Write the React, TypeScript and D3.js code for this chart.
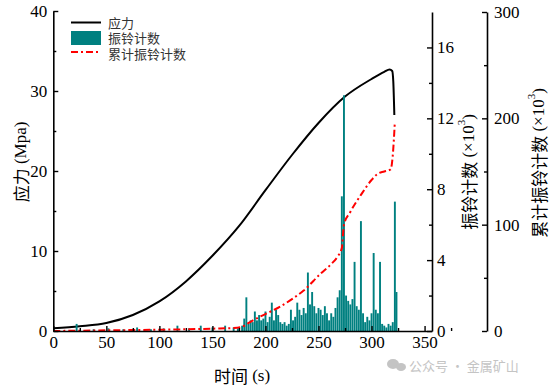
import React, { useEffect, useRef } from 'react';
import * as d3 from 'd3';

// 应力 (MPa) vs time (s)
const stressTime = [0, 25, 50, 75, 100, 125, 150, 175, 200, 225, 250, 275, 300, 312, 317, 319.5, 320.5, 321.5];
const stressVal = [0.35, 0.6, 1.0, 2.0, 3.7, 6.2, 9.4, 13.1, 17.6, 22.0, 26.0, 29.3, 31.5, 32.4, 32.7, 32.5, 31.2, 27.0];

// 振铃计数 (x10^3)
const ringTime = [22, 38, 52, 66, 79, 92, 104, 117, 128, 139, 150, 162, 170, 174,
  178, 180, 182, 184, 186, 188, 190, 192, 194, 196, 198, 200, 202, 204, 206, 208,
  210, 212, 214, 216, 218, 220, 222, 224, 226, 228, 230, 232, 234, 236, 238, 240,
  242, 244, 246, 248, 250, 252, 254, 256, 258, 260, 262, 264, 266, 268, 270, 272,
  274, 276, 278, 280, 282, 284, 286, 288, 290, 292, 294, 296, 298, 300, 302, 304,
  306, 308, 310, 312, 314, 316, 318, 320, 322, 323.5];
const ringVal = [0.4, 0.1, 0.15, 0.1, 0.2, 0.1, 0.15, 0.3, 0.15, 0.3, 0.2, 0.3, 0.2, 0.15,
  0.3, 0.7, 1.9, 0.4, 0.6, 0.5, 1.1, 0.6, 0.9, 0.6, 0.7, 1.1, 0.5, 0.8, 1.6, 0.6,
  1.2, 0.9, 0.5, 0.4, 0.5, 0.3, 0.4, 1.2, 0.6, 0.8, 1.6, 1.2, 0.9, 1.3, 1.0, 3.3,
  1.5, 2.2, 1.4, 1.0, 1.3, 1.2, 0.9, 1.4, 1.0, 0.6, 1.0, 0.8, 1.3, 1.9, 2.3, 7.6,
  13.3, 2.0, 1.7, 1.5, 1.8, 3.9, 1.4, 1.2, 6.2, 1.0, 0.5, 0.8, 0.6, 1.0, 4.4, 1.2,
  1.0, 3.9, 0.4, 0.3, 0.2, 0.4, 0.3, 0.5, 7.3, 2.2];

// 累计振铃计数 (x10^3)
const cumTime = [0, 25, 50, 75, 100, 125, 150, 170, 178, 183, 190, 198, 214, 225, 236, 252, 262, 268, 272, 274, 280, 290, 300, 306, 312, 318, 320, 322];
const cumVal = [0, 0.3, 0.6, 0.9, 1.2, 1.6, 2.2, 2.8, 4, 7, 11, 15, 23, 30, 38, 54, 63, 70, 78, 100, 112, 128, 142, 148, 150, 152, 165, 197];

const xTicks = [0, 50, 100, 150, 200, 250, 300, 350];
const stressTicks = [0, 10, 20, 30, 40];
const ringTicks = [0, 4, 8, 12, 16];
const cumTicks = [0, 100, 200, 300];

const legendLabels = ['应力', '振铃计数', '累计振铃计数'];

const W = 550;
const H = 387;
const NUM_FONT = '"Liberation Serif", "DejaVu Serif", serif';
const CJK_FONT = '"Noto Sans CJK SC", "Liberation Serif", serif';
const TEAL = '#008080';

const App = () => {
  const svgRef = useRef<SVGSVGElement>(null);

  useEffect(() => {
    const svg = d3.select(svgRef.current);
    svg.selectAll('*').remove();

    const left = 53.3, right = 432, top = 11, bottom = 331;
    const right2 = 487;

    const x = d3.scaleLinear().domain([0, 357]).range([left, right]);
    const yS = d3.scaleLinear().domain([0, 40]).range([bottom, top]);
    const yR = d3.scaleLinear().domain([0, 18]).range([bottom, top + 1]);
    const yC = d3.scaleLinear().domain([0, 300]).range([bottom, top + 1]);

    const styleAxis = (g, anchor) => {
      g.selectAll('path.domain').attr('stroke', '#000').attr('stroke-width', 1.6);
      g.selectAll('.tick line').attr('stroke', '#000').attr('stroke-width', 1.4);
      g.selectAll('.tick text')
        .attr('font-family', NUM_FONT)
        .attr('font-size', 17)
        .attr('fill', '#000');
      if (anchor) g.selectAll('.tick text').attr('text-anchor', anchor);
    };

    // stress line (drawn first, bars overlay it)
    const stress = stressTime.map((t, i) => [t, stressVal[i]]);
    svg.append('path')
      .datum(stress)
      .attr('fill', 'none')
      .attr('stroke', '#000')
      .attr('stroke-width', 2)
      .attr('d', d3.line().x(d => x(d[0])).y(d => yS(d[1])).curve(d3.curveMonotoneX));

    // ring count bars
    const bw = x(1.8) - x(0);
    svg.append('g')
      .selectAll('rect')
      .data(ringTime.map((t, i) => ({ t, v: ringVal[i] })))
      .enter()
      .append('rect')
      .attr('x', d => x(d.t) - bw / 2)
      .attr('y', d => yR(d.v))
      .attr('width', bw)
      .attr('height', d => bottom - yR(d.v))
      .attr('fill', TEAL);

    // cumulative ring count
    const cum = cumTime.map((t, i) => [t, cumVal[i]]);
    svg.append('path')
      .datum(cum)
      .attr('fill', 'none')
      .attr('stroke', '#ff0000')
      .attr('stroke-width', 2)
      .attr('stroke-dasharray', '7,3,2,3')
      .attr('d', d3.line().x(d => x(d[0])).y(d => yC(d[1])).curve(d3.curveMonotoneX));

    // x axis
    const gx = svg.append('g').attr('transform', `translate(0,${bottom})`);
    gx.call(d3.axisBottom(x).tickValues(xTicks).tickSize(-5).tickSizeOuter(0).tickPadding(5).tickFormat(d3.format('d')));
    gx.append('g').call(d3.axisBottom(x).tickValues(xTicks.map(t => t + 25)).tickSize(-3).tickFormat(() => ''))
      .call(g => g.select('.domain').remove());
    styleAxis(gx, null);

    // left axis
    const gl = svg.append('g').attr('transform', `translate(${left},0)`);
    gl.call(d3.axisLeft(yS).tickValues(stressTicks).tickSize(-5).tickSizeOuter(0).tickPadding(6));
    gl.append('g').call(d3.axisLeft(yS).tickValues([5, 15, 25, 35]).tickSize(-3).tickFormat(() => ''))
      .call(g => g.select('.domain').remove());
    styleAxis(gl, 'end');

    // right axis 1 (振铃计数)
    const gr = svg.append('g').attr('transform', `translate(${right},0)`);
    gr.call(d3.axisRight(yR).tickValues(ringTicks).tickSize(-5).tickSizeOuter(0).tickPadding(5));
    gr.append('g').call(d3.axisRight(yR).tickValues([2, 6, 10, 14]).tickSize(-3).tickFormat(() => ''))
      .call(g => g.select('.domain').remove());
    styleAxis(gr, 'start');

    // right axis 2 (累计振铃计数)
    const gr2 = svg.append('g').attr('transform', `translate(${right2},0)`);
    gr2.call(d3.axisRight(yC).tickValues(cumTicks).tickSize(-5).tickSizeOuter(0).tickPadding(7));
    gr2.append('g').call(d3.axisRight(yC).tickValues([50, 150, 250]).tickSize(-3).tickFormat(() => ''))
      .call(g => g.select('.domain').remove());
    styleAxis(gr2, 'start');

    // axis titles
    const title = (tx, ty, rot, cn, rest, sup) => {
      const t = svg.append('text')
        .attr('transform', `translate(${tx},${ty}) rotate(${rot})`)
        .attr('text-anchor', 'middle')
        .attr('dominant-baseline', 'central')
        .attr('font-size', 17)
        .attr('fill', '#000');
      t.append('tspan').attr('font-family', CJK_FONT).text(cn);
      t.append('tspan').attr('font-family', NUM_FONT).text(rest);
      if (sup) {
        t.append('tspan').attr('font-family', NUM_FONT).attr('font-size', 11).attr('dy', -7).text(sup);
        t.append('tspan').attr('font-family', NUM_FONT).attr('dy', 7).text(')');
      }
    };
    title(20, 162, -90, '应力', ' (Mpa)', null);
    title(242, 375, 0, '时间', ' (s)', null);
    title(468, 172, -90, '振铃计数', ' (×10', '3');
    title(538, 163, -90, '累计振铃计数', ' (×10', '3');

    // legend
    const lg = svg.append('g');
    lg.append('line').attr('x1', 71).attr('x2', 101).attr('y1', 22.5).attr('y2', 22.5)
      .attr('stroke', '#000').attr('stroke-width', 2);
    lg.append('rect').attr('x', 71).attr('y', 31).attr('width', 30).attr('height', 14).attr('fill', TEAL);
    lg.append('line').attr('x1', 71).attr('x2', 101).attr('y1', 52).attr('y2', 52)
      .attr('stroke', '#ff0000').attr('stroke-width', 2).attr('stroke-dasharray', '7,3,2,3');
    legendLabels.forEach((s, i) => {
      lg.append('text')
        .attr('x', 108)
        .attr('y', 22 + i * 15.5)
        .attr('dominant-baseline', 'central')
        .attr('font-family', CJK_FONT)
        .attr('font-size', 13)
        .attr('fill', '#333')
        .text(s);
    });

    // watermark
    const wm = svg.append('g').attr('fill', '#c4c4c4');
    wm.append('ellipse').attr('cx', 393).attr('cy', 364).attr('rx', 6).attr('ry', 5);
    wm.append('ellipse').attr('cx', 401).attr('cy', 367).attr('rx', 5).attr('ry', 4);
    wm.append('text')
      .attr('x', 409)
      .attr('y', 365)
      .attr('dominant-baseline', 'central')
      .attr('font-family', '"Noto Sans CJK SC", sans-serif')
      .attr('font-size', 13)
      .text('公众号 · 金属矿山');
  }, []);

  return (
    <svg
      ref={svgRef}
      width={W}
      height={H}
      style={{ position: 'absolute', left: 0, top: 0, background: '#fff' }}
    />
  );
};

export default App;
